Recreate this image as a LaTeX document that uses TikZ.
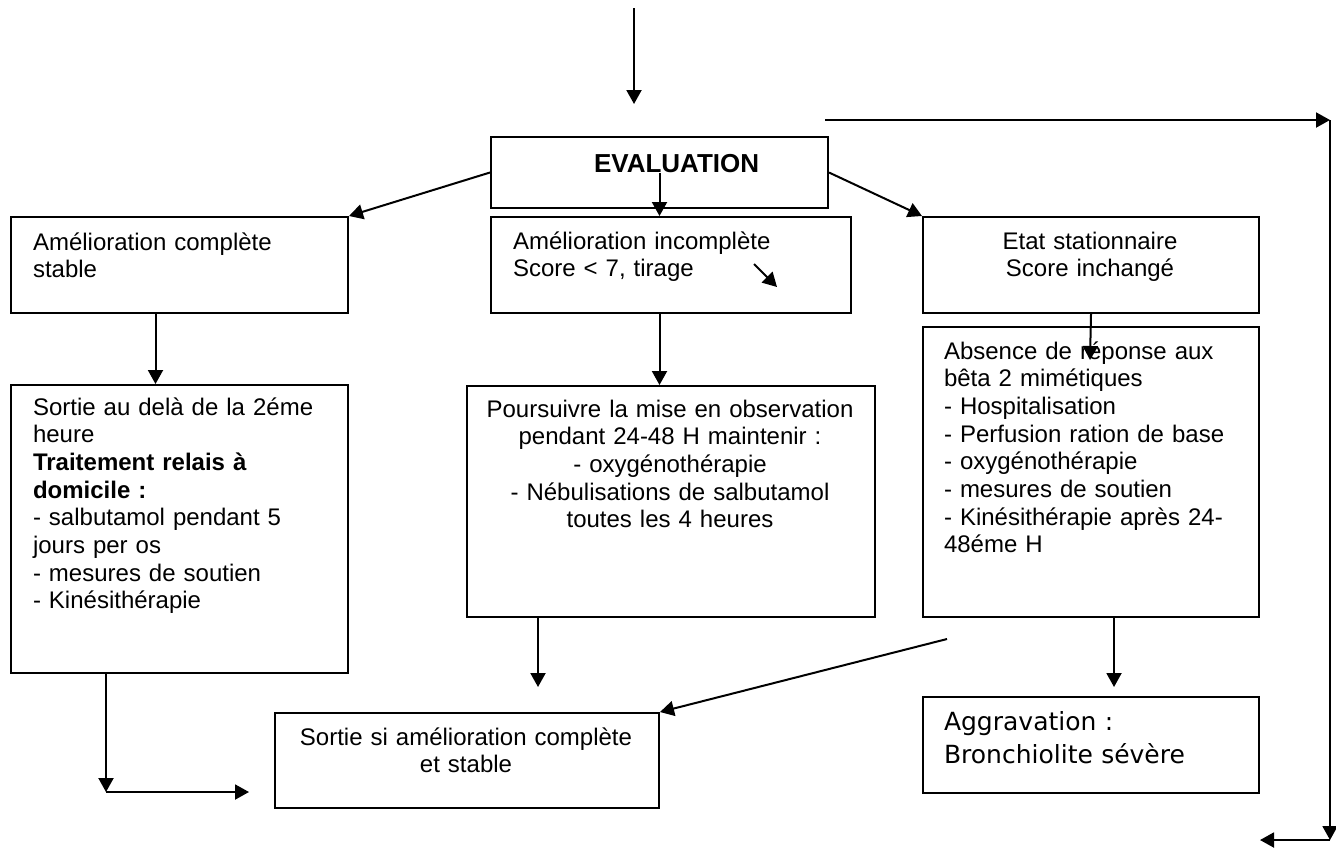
\documentclass[tikz,border=0pt]{standalone}
\usepackage{fontspec}
\setmainfont{Liberation Sans}
\newfontfamily\aggrfont{DejaVu Sans}
\usetikzlibrary{arrows.meta,positioning,calc}

\begin{document}
\begin{tikzpicture}[
      x = 0.5pt, y = -0.5pt, % one unit = one pixel of the sheet
      > = {Triangle[length=7pt,width=7.5pt]}, % arrow head style
      line width = 1pt % line style
      ]

      \tikzset{box/.style={
      draw = black,
      inner sep = 0pt,
      anchor = north west
      }}
      \tikzset{txt/.style={
      inner sep = 0pt,
      text width = 160pt,
      align = left,
      anchor = base west,
      font = \fontsize{12}{13.85}\selectfont
      }}
      \tikzset{ctxt/.style={txt, align = center, anchor = base}}

      \useasboundingbox (0,0) rectangle (1336,848);

      % boxes
      \node[box, minimum width=168.5pt, minimum height=35.5pt] (ev) at (490,136) {};
      \node[box, minimum width=168.5pt, minimum height=48pt] (a) at (10,216) {};
      \node[box, minimum width=180pt, minimum height=48pt] (b) at (490,216) {};
      \node[box, minimum width=168pt, minimum height=48pt] (c) at (922,216) {};
      \node[box, minimum width=168.5pt, minimum height=144pt] (d) at (10,384) {};
      \node[box, minimum width=204pt, minimum height=115.5pt] (e) at (466,385) {};
      \node[box, minimum width=168pt, minimum height=145pt] (g) at (922,326) {};
      \node[box, minimum width=192pt, minimum height=47.5pt] (f) at (274,712) {};
      \node[box, minimum width=168pt, minimum height=48pt] (h) at (922,696) {};

      % texts
      \node[txt, font=\bfseries\fontsize{13}{15}\selectfont] (tev) at (593,172) {EVALUATION};
      \node[txt] (ta) at (32,250) {Amélioration complète\\stable};
      \node[txt] (tb) at (512,249) {Amélioration incomplète\\Score < 7, tirage};
      \node[ctxt, text width=168pt] (tc) at (1090,249) {Etat stationnaire\\Score inchangé};
      \node[txt] (td) at (32,415) {Sortie au delà de la 2éme\\heure\\\textbf{Traitement relais à}\\\textbf{domicile :}\\- salbutamol pendant 5\\jours per os\\- mesures de soutien\\- Kinésithérapie};
      \node[ctxt, text width=204pt] (te) at (670,417) {Poursuivre la mise en observation\\pendant 24-48 H maintenir :\\- oxygénothérapie\\- Nébulisations de salbutamol\\toutes les 4 heures};
      \node[txt] (tg) at (943,359) {Absence de réponse aux\\bêta 2 mimétiques\\- Hospitalisation\\- Perfusion ration de base\\- oxygénothérapie\\- mesures de soutien\\- Kinésithérapie après 24-\\48éme H};
      \node[ctxt, text width=192pt] (tf) at (466,745) {Sortie si amélioration complète\\et stable};
      \node[txt, font=\aggrfont\fontsize{12.5}{16.5}\selectfont] (th) at (943,730) {Aggravation :\\Bronchiolite sévère};

      % free ends
      \coordinate (top) at (634,8);
      \coordinate (topend) at (634,104);
      \coordinate (tirA) at (754,264);
      \coordinate (tirB) at (777,287);
      \coordinate (r1) at (825,120);
      \coordinate (r2) at (1330,120);
      \coordinate (r3) at (1330,840);
      \coordinate (r4) at (1260,840);
      \coordinate (ad) at ($(a.south)+(-24,0)$);
      \coordinate (dc) at (106,792);
      \coordinate (dend) at (249,792);
      \coordinate (eout) at (538,687);
      \coordinate (gin) at (1090,360);
      \coordinate (hin) at (1114,687);
      \coordinate (gout) at (947,639);

      % arrows
      \draw[->] (top) -- (topend);
      \draw[->] (ev.west) -- (a.north east);
      \draw[->] (ev.center) -- (ev.center |- b.north);
      \draw[->] (ev.east) -- (c.north west);
      \draw[->] (tirA) -- (tirB);
      \draw[->] (r1) -- (r2);
      \draw[->] (r2) -- (r3);
      \draw[->] (r3) -- (r4);
      \draw[->] (ad) -- (ad |- d.north);
      \draw[->] (d.south -| dc) -- (dc);
      \draw[->] (dc) -- (dend);
      \draw[->] (b.south -| ev.center) -- (e.north -| ev.center);
      \draw[->] (e.south -| eout) -- (eout);
      \draw[->] (c.south) -- (gin);
      \draw[->] (g.south -| hin) -- (hin);
      \draw[->] (gout) -- (f.north east);

    \end{tikzpicture}
\end{document}
